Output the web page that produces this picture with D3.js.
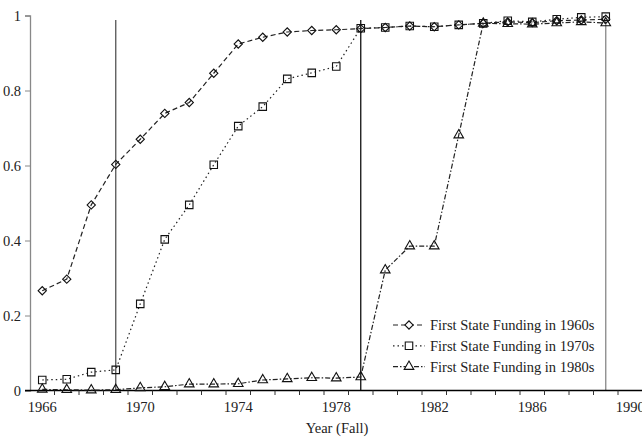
<!DOCTYPE html>
<html>
<head>
<meta charset="utf-8">
<script src="https://cdn.jsdelivr.net/npm/d3@7"></script>
<style>
  body { margin: 0; background: #fff; }
  svg text { font-family: "Liberation Serif", "Times New Roman", serif; fill: #222; }
</style>
</head>
<body>
<div id="chart"></div>
<script>
// years on the category axis (1990 has no data)
const years = d3.range(1966, 1991);
const dataYears = d3.range(1966, 1990);
const yearLabels = [1966, 1970, 1974, 1978, 1982, 1986, 1990];
const yTicks = [0, 0.2, 0.4, 0.6, 0.8, 1];

const funding1960s = [0.266, 0.297, 0.495, 0.603, 0.670, 0.739, 0.768, 0.846, 0.924, 0.942,
                      0.956, 0.960, 0.962, 0.965, 0.968, 0.972, 0.970, 0.975, 0.979, 0.983,
                      0.981, 0.986, 0.988, 0.990];
const funding1970s = [0.028, 0.030, 0.049, 0.055, 0.231, 0.403, 0.495, 0.602, 0.705, 0.757,
                      0.831, 0.847, 0.864, 0.966, 0.968, 0.972, 0.970, 0.975, 0.979, 0.986,
                      0.983, 0.990, 0.995, 0.997];
const funding1980s = [0.003, 0.002, 0.001, 0.002, 0.007, 0.010, 0.017, 0.017, 0.018, 0.028,
                      0.031, 0.034, 0.033, 0.036, 0.321, 0.385, 0.385, 0.681, 0.979, 0.978,
                      0.977, 0.980, 0.983, 0.980];

// vertical reference lines
const refLines = [
  { year: 1969, color: "#555" },
  { year: 1979, color: "#111" },
  { year: 1989, color: "#888" }
];

const series = [
  { name: "First State Funding in 1960s", values: funding1960s, dash: "5,3", marker: "diamond" },
  { name: "First State Funding in 1970s", values: funding1970s, dash: "1.5,3", marker: "square" },
  { name: "First State Funding in 1980s", values: funding1980s, dash: "5,2,1.5,2", marker: "triangle" }
];

const W = 642, H = 442;
const svg = d3.select("#chart").append("svg").attr("width", W).attr("height", H);

const x = d3.scaleBand().domain(years).range([30, 642.5]);
const y = d3.scaleLinear().domain([0, 1]).range([390.5, 15.5]);
const cx = d => x(d) + x.bandwidth() / 2;

// reference lines
svg.selectAll(".ref")
  .data(refLines)
  .enter().append("line")
  .attr("x1", d => cx(d.year)).attr("x2", d => cx(d.year))
  .attr("y1", 20).attr("y2", y(0))
  .attr("stroke", d => d.color)
  .attr("stroke-width", 1.3);

// y axis
const yAxis = svg.append("g")
  .attr("transform", "translate(30,0)")
  .call(d3.axisLeft(y).tickValues(yTicks).tickSize(5).tickPadding(4)
    .tickFormat(d => d === 0 || d === 1 ? String(d) : d3.format(".1f")(d)));
yAxis.select(".domain").attr("stroke", "#888").attr("stroke-width", 1.3);
yAxis.selectAll(".tick line").attr("stroke", "#888");
yAxis.selectAll("text").style("font-size", "14.5px").attr("fill", "#222");

// x axis: ticks between categories, labels every 4 years
const xg = svg.append("g").attr("transform", `translate(0,${y(0)})`);
xg.append("line").attr("x1", 25).attr("x2", 642).attr("stroke", "#000").attr("stroke-width", 1.3);
xg.selectAll(".xt")
  .data(years.slice(1))
  .enter().append("line")
  .attr("x1", d => x(d)).attr("x2", d => x(d))
  .attr("y1", 0).attr("y2", 4.5)
  .attr("stroke", "#333");
xg.selectAll(".xl")
  .data(yearLabels)
  .enter().append("text")
  .attr("x", d => cx(d))
  .attr("y", 21)
  .attr("text-anchor", "middle")
  .style("font-size", "14.5px")
  .text(d => d);

svg.append("text")
  .attr("x", 337).attr("y", 433)
  .attr("text-anchor", "middle")
  .style("font-size", "14.5px")
  .text("Year (Fall)");

const symbolOf = {
  diamond: d3.symbol().type(d3.symbolSquare).size(34),
  square: d3.symbol().type(d3.symbolSquare).size(56),
  triangle: d3.symbol().type(d3.symbolTriangle).size(40)
};
const rotOf = { diamond: 45, square: 0, triangle: 0 };

const line = d3.line().x((d, i) => cx(dataYears[i])).y(d => y(d));

series.forEach(s => {
  svg.append("path")
    .datum(s.values)
    .attr("d", line)
    .attr("fill", "none")
    .attr("stroke", "#222")
    .attr("stroke-width", 1.2)
    .attr("stroke-dasharray", s.dash);
});

series.forEach(s => {
  svg.selectAll(null)
    .data(s.values)
    .enter().append("path")
    .attr("d", symbolOf[s.marker])
    .attr("transform", (d, i) => `translate(${cx(dataYears[i])},${y(d)}) rotate(${rotOf[s.marker]})`)
    .attr("fill", "none")
    .attr("stroke", "#111")
    .attr("stroke-width", 1.1);
});

// legend
const legend = svg.append("g").attr("transform", "translate(393,325)");
series.forEach((s, i) => {
  const g = legend.append("g").attr("transform", `translate(0,${i * 20.8})`);
  g.append("line")
    .attr("x1", 0).attr("x2", 32)
    .attr("stroke", "#222").attr("stroke-width", 1.2)
    .attr("stroke-dasharray", s.dash);
  g.append("path")
    .attr("d", symbolOf[s.marker])
    .attr("transform", `translate(16,0) rotate(${rotOf[s.marker]})`)
    .attr("fill", "#fff").attr("stroke", "#111").attr("stroke-width", 1.1);
  g.append("text")
    .attr("x", 37).attr("y", 5)
    .style("font-size", "14.5px")
    .text(s.name);
});
</script>
</body>
</html>
